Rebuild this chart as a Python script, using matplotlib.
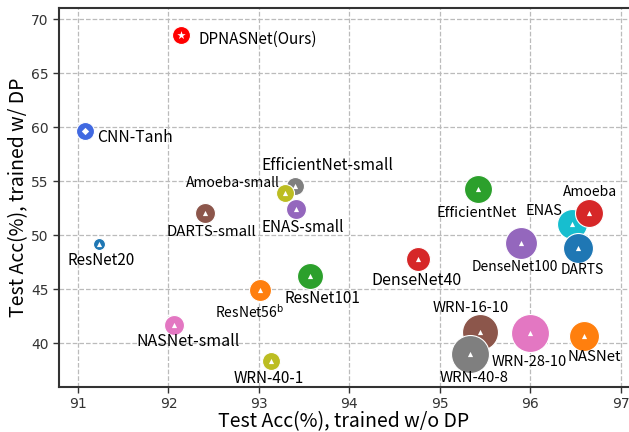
# Accuracy with vs without DP, bubble chart
import numpy as np
import matplotlib.pyplot as plt

plt.rcParams['font.family'] = ['Noto Sans CJK SC', 'DejaVu Sans']

# data
names = ["DPNASNet(Ours)", "CNN-Tanh", "EfficientNet-small", "Amoeba-small", "DARTS-small",
         "ENAS-small", "ResNet20", r"ResNet56$^{\mathrm{b}}$", "ResNet101", "NASNet-small",
         "WRN-40-1", "EfficientNet", "ENAS", "Amoeba", "DenseNet100", "DARTS", "DenseNet40",
         "WRN-16-10", "WRN-28-10", "NASNet", "WRN-40-8"]
acc_no_dp = [92.14, 91.08, 93.40, 93.29, 92.40, 93.41, 91.23, 93.01, 93.56, 92.06, 93.13,
             95.42, 96.46, 96.65, 95.90, 96.53, 94.76, 95.44, 96.00, 96.59, 95.33]
acc_dp = [68.5, 59.6, 54.5, 53.9, 52.0, 52.4, 49.2, 44.9, 46.2, 41.7, 38.3,
          54.3, 51.0, 52.0, 49.3, 48.8, 47.8, 41.0, 40.9, 40.7, 39.0]
bubble = [9, 9, 9, 9, 10, 10, 6, 11, 13, 10, 9,
          14, 15, 14, 16, 15, 12, 18, 19, 15, 19]

colors = ["#ff0000", "#4169e1", "#7f7f7f", "#bcbd22", "#8c564b", "#9467bd", "#1f77b4",
          "#ff7f0e", "#2ca02c", "#e377c2", "#bcbd22", "#2ca02c", "#17becf", "#d62728",
          "#9467bd", "#1f77b4", "#d62728", "#8c564b", "#e377c2", "#ff7f0e", "#7f7f7f"]
inner = ["*", "D"] + ["^"] * 19
# label offsets in pixels (dx, dy), alignment and font size
offsets = [(17, -4, "left"), (12, -6, "left"), (32, 21, "center"), (-5, 10, "right"),
           (7, -19, "center"), (7, -18, "center"), (2, -17, "center"), (-10, -22, "center"),
           (13, -22, "center"), (14, -17, "center"), (-2, -17, "center"), (-1, -24, "center"),
           (-28, 13, "center"), (1, 21, "center"), (-7, -24, "center"), (4, -22, "center"),
           (-2, -22, "center"), (-9, 24, "center"), (-1, -29, "center"), (11, -21, "center"),
           (4, -24, "center")]
label_size = [11, 11.3, 11.3, 10, 10.8, 11, 11, 10, 11, 11.5, 11,
              10.5, 10.5, 10, 10, 10, 11.5, 10.7, 10.5, 10.8, 10.8]

fig = plt.figure(figsize=(6.29, 4.32), dpi=100)
ax = fig.add_axes([0.0938, 0.104, 0.9062, 0.8775])

for i, name in enumerate(names):
    r = bubble[i]
    ax.scatter(acc_no_dp[i], acc_dp[i], s=2.07 * r * r, color=colors[i],
               edgecolors="white", linewidths=0.8, zorder=3)
    ms = 40 if inner[i] == "*" else 14
    ax.scatter(acc_no_dp[i], acc_dp[i], s=ms, marker=inner[i], color="white",
               linewidths=0, zorder=4)
    dx, dy, ha = offsets[i]
    ax.annotate(name, (acc_no_dp[i], acc_dp[i]), xytext=(dx, dy), textcoords="offset pixels",
                ha=ha, va="center", fontsize=label_size[i], color="black", zorder=5)

ax.set_xlim(90.79, 97.09)
ax.set_ylim(35.93, 71.02)
ax.set_xticks([91, 92, 93, 94, 95, 96, 97])
ax.set_yticks([40, 45, 50, 55, 60, 65, 70])
ax.grid(True, linestyle="--", color="#bbbbbb", linewidth=0.9)
ax.set_axisbelow(True)
ax.spines["right"].set_visible(False)
for s in ["left", "top", "bottom"]:
    ax.spines[s].set_color("#333333")
    ax.spines[s].set_linewidth(1.5)
ax.tick_params(colors="#333333", labelsize=10, length=4, width=1,
               labelfontfamily="DejaVu Sans")
ax.set_xlabel("Test Acc(%), trained w/o DP", fontsize=14, labelpad=0)
ax.set_ylabel("Test Acc(%), trained w/ DP", fontsize=14, labelpad=1)

plt.savefig("out.png")
plt.close()
